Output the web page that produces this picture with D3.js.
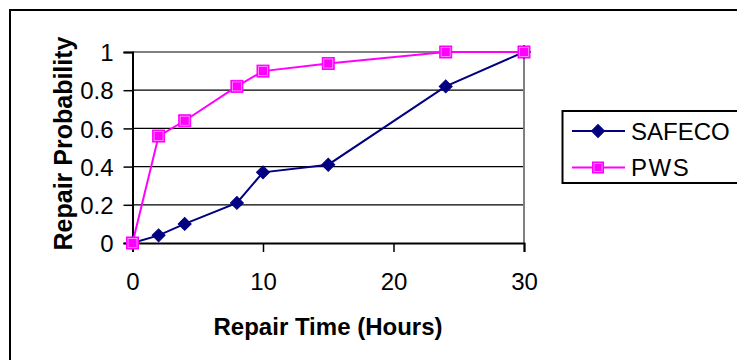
<!DOCTYPE html>
<html>
<head>
<meta charset="utf-8">
<script src="https://cdn.jsdelivr.net/npm/d3@7"></script>
<style>
  html, body { margin: 0; padding: 0; background: #fff; }
  svg { display: block; font-family: Arial, "Liberation Sans", sans-serif; }
</style>
</head>
<body>
<svg id="chart" width="737" height="360"></svg>
<script>
// ---- data ----
const hours = [0, 2, 4, 8, 10, 15, 24, 30];
const safeco = [0, 0.04, 0.1, 0.21, 0.37, 0.41, 0.82, 1.0];
const pws = [0, 0.56, 0.64, 0.82, 0.9, 0.94, 1.0, 1.0];
const seriesNames = ["SAFECO", "PWS"];
const xTicks = [0, 10, 20, 30];
const yTicks = [0, 0.2, 0.4, 0.6, 0.8, 1];
const xTitle = "Repair Time (Hours)";
const yTitle = "Repair Probability";

const colors = { SAFECO: "#000080", PWS: "#FF00FF" };

const svg = d3.select("#chart");

// outer chart border (clipped on right/bottom)
svg.append("rect")
  .attr("x", 10).attr("y", 10).attr("width", 760).attr("height", 370)
  .attr("fill", "none").attr("stroke", "#000").attr("stroke-width", 2);

const pLeft = 132.5, pRight = 524, pTop = 52, pBottom = 243;
const x = d3.scaleLinear().domain([0, 30]).range([pLeft, pRight]);
const y = d3.scaleLinear().domain([0, 1]).range([pBottom, pTop]);

// gridlines
svg.append("g").selectAll("line")
  .data(yTicks.filter(d => d > 0))
  .join("line")
  .attr("x1", pLeft).attr("x2", pRight)
  .attr("y1", d => y(d)).attr("y2", d => y(d))
  .attr("stroke", d => d === 1 ? "#808080" : "#000")
  .attr("stroke-width", d => d === 1 ? 2 : 1.2);

// right plot border (gray)
svg.append("line")
  .attr("x1", pRight).attr("x2", pRight).attr("y1", pTop).attr("y2", pBottom)
  .attr("stroke", "#808080").attr("stroke-width", 2);

// y axis
const yAxis = d3.axisLeft(y).tickValues(yTicks).tickSize(9).tickPadding(10)
  .tickFormat(d => String(+d.toFixed(1)));
const gy = svg.append("g").attr("transform", `translate(${pLeft},0)`).call(yAxis);
gy.select(".domain").attr("stroke", "#000").attr("stroke-width", 2);
gy.selectAll(".tick line").attr("stroke", "#000").attr("stroke-width", 1.5);
gy.selectAll(".tick text")
  .attr("font-size", 24).attr("fill", "#000")
  .attr("font-family", "Arial, 'Liberation Sans', sans-serif")
  .attr("dy", "0.36em");

// x axis
const xAxis = d3.axisBottom(x).tickValues(xTicks).tickSize(9).tickPadding(21)
  .tickFormat(d3.format("d"));
const gx = svg.append("g").attr("transform", `translate(0,${pBottom})`).call(xAxis);
gx.select(".domain").attr("stroke", "#000").attr("stroke-width", 2);
gx.selectAll(".tick line").attr("stroke", "#000").attr("stroke-width", 1.5);
gx.selectAll(".tick text")
  .attr("font-size", 24).attr("fill", "#000")
  .attr("font-family", "Arial, 'Liberation Sans', sans-serif");

// axis titles
svg.append("text")
  .attr("x", 328).attr("y", 335)
  .attr("text-anchor", "middle")
  .attr("font-size", 24).attr("font-weight", "bold")
  .text(xTitle);

svg.append("text")
  .attr("transform", "translate(72,143.5) rotate(-90)")
  .attr("text-anchor", "middle")
  .attr("font-size", 25).attr("font-weight", "bold")
  .text(yTitle);

// series
const line = d3.line().x(d => x(d[0])).y(d => y(d[1]));

function drawDiamond(g, cx, cy) {
  g.append("path")
    .attr("d", d3.symbol().type(d3.symbolSquare).size(84)())
    .attr("transform", `translate(${cx},${cy}) rotate(45)`)
    .attr("fill", colors.SAFECO).attr("stroke", colors.SAFECO).attr("stroke-width", 1);
}
function drawSquare(g, cx, cy, s) {
  g.append("rect")
    .attr("x", cx - s / 2).attr("y", cy - s / 2).attr("width", s).attr("height", s)
    .attr("fill", colors.PWS).attr("stroke", colors.PWS).attr("stroke-width", 1);
  g.append("rect")
    .attr("x", cx - s / 2 + 1.5).attr("y", cy - s / 2 + 1.5).attr("width", s - 3).attr("height", s - 3)
    .attr("fill", "none").attr("stroke", "#FF9CFF").attr("stroke-width", 0.8);
}

const safecoData = hours.map((h, i) => [h, safeco[i]]);
const pwsData = hours.map((h, i) => [h, pws[i]]);

const gS = svg.append("g");
gS.append("path").datum(safecoData).attr("d", line)
  .attr("fill", "none").attr("stroke", colors.SAFECO).attr("stroke-width", 2);
safecoData.forEach(d => drawDiamond(gS, x(d[0]), y(d[1])));

const gP = svg.append("g");
gP.append("path").datum(pwsData).attr("d", line)
  .attr("fill", "none").attr("stroke", colors.PWS).attr("stroke-width", 2);
pwsData.forEach(d => drawSquare(gP, x(d[0]), y(d[1]), 12));

// legend
const lg = svg.append("g");
lg.append("rect")
  .attr("x", 562.5).attr("y", 111).attr("width", 200).attr("height", 72)
  .attr("fill", "#fff").attr("stroke", "#000").attr("stroke-width", 2);
const legendY = [131, 167.5];
seriesNames.forEach((name, i) => {
  const cy = legendY[i];
  lg.append("line").attr("x1", 572).attr("x2", 625).attr("y1", cy).attr("y2", cy)
    .attr("stroke", colors[name]).attr("stroke-width", 2);
  if (name === "SAFECO") drawDiamond(lg, 598, cy);
  else drawSquare(lg, 598, cy, 11);
  lg.append("text").attr("x", 631).attr("y", cy).attr("dy", "0.36em")
    .attr("font-size", 24).attr("fill", "#000")
    .attr("letter-spacing", name === "PWS" ? 1.5 : 0)
    .text(name);
});
</script>
</body>
</html>
